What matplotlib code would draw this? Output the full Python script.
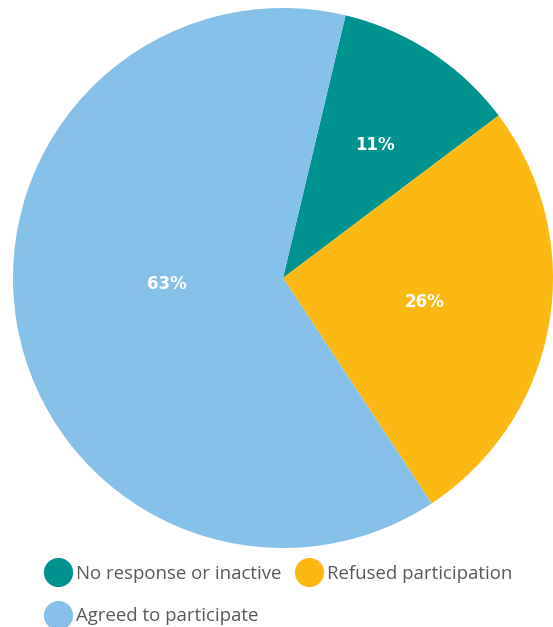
import matplotlib
matplotlib.use("Agg")
import matplotlib.pyplot as plt
from matplotlib.lines import Line2D
import numpy as np

categories = ["No response or inactive", "Refused participation", "Agreed to participate"]
values = [11, 26, 63]
colors = ["#00928F", "#FDB913", "#85C1E9"]
label_dist = [0.60, 0.53, 0.43]
label_angle_shift = [-1.5, 0.0, -7.0]

plt.rcParams['font.family'] = ['Open Sans', 'DejaVu Sans']

fig = plt.figure(figsize=(5.53, 6.27), dpi=100)
ax = fig.add_axes([13/553, 1 - 548/627, 540/553, 540/627])
wedges, _ = ax.pie(values, colors=colors, startangle=76.6, counterclock=False,
                   radius=1.0, wedgeprops=dict(linewidth=0))
ax.set_xlim(-1, 1)
ax.set_ylim(-1, 1)
ax.set_aspect('auto')
ax.axis('off')

for w, v, d, s in zip(wedges, values, label_dist, label_angle_shift):
    mid = np.deg2rad((w.theta1 + w.theta2) / 2 + s)
    ax.text(d * np.cos(mid), d * np.sin(mid), f"{v}%", color="white",
            fontsize=12, fontweight="bold", ha="center", va="center",
            family=['DejaVu Sans'])

order = [0, 2, 1]
handles = [Line2D([0], [0], marker='o', linestyle='none', markersize=21,
                  markerfacecolor=colors[i], markeredgecolor='none') for i in order]
labels = [categories[i] for i in order]
leg = fig.legend(handles, labels, loc='upper left', bbox_to_anchor=(49/553, 1 - 565/627),
                 ncol=2, frameon=False, fontsize=13.4, labelcolor='#595959',
                 handlelength=1.0, handletextpad=0.45, columnspacing=1.0, labelspacing=1.3,
                 borderpad=0, borderaxespad=0)
fig.savefig("out.png", dpi=100)
